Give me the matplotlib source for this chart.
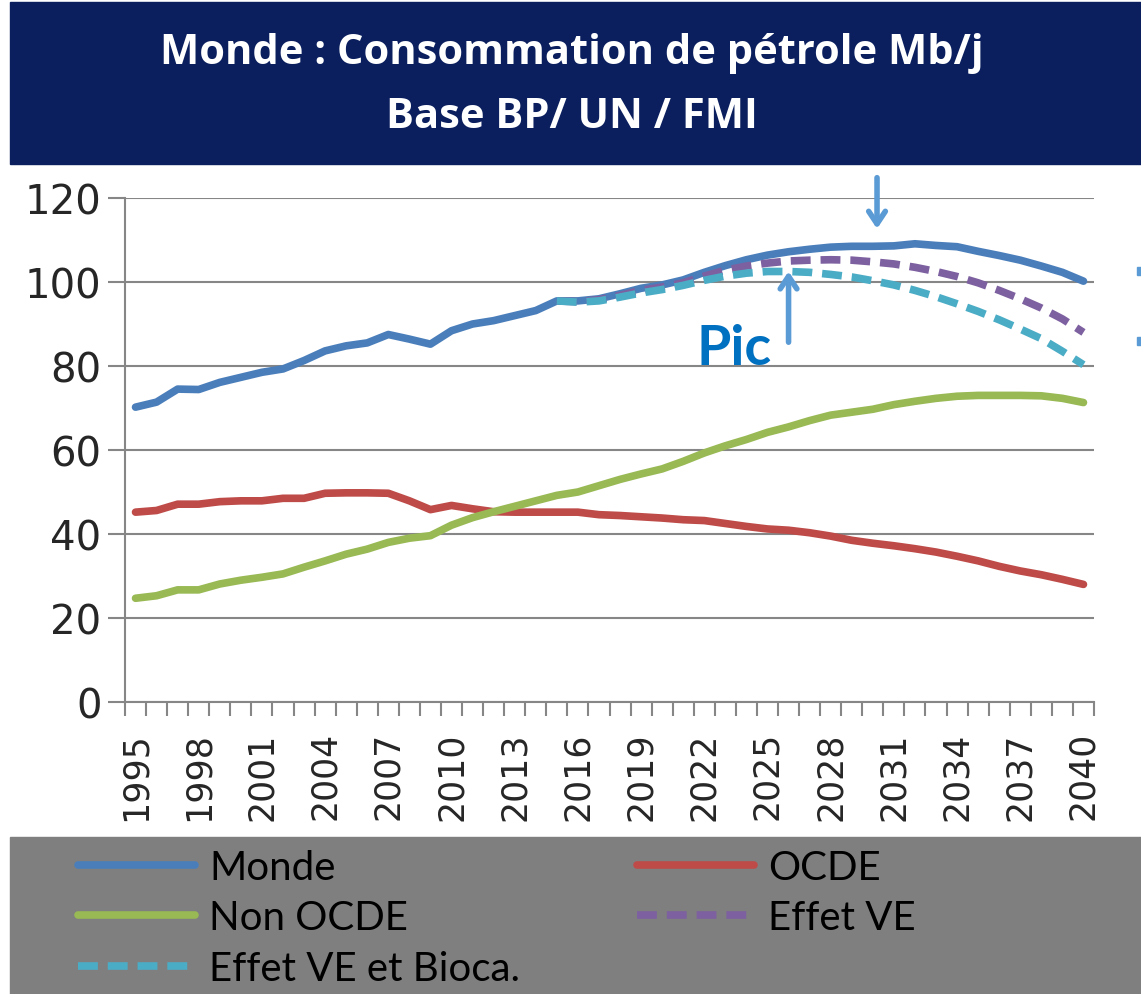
import matplotlib.pyplot as plt
from matplotlib.patches import Rectangle

# data (Mb/j)
years = list(range(1995, 2041))
monde = [70.2, 71.4, 74.5, 74.4, 76.1, 77.3, 78.5, 79.3, 81.3, 83.6,
         84.8, 85.5, 87.5, 86.4, 85.2, 88.4, 90.0, 90.8, 92.0, 93.2,
         95.5, 95.5, 96.0, 97.2, 98.5, 99.3, 100.5, 102.3, 103.9, 105.3,
         106.4, 107.2, 107.8, 108.3, 108.5, 108.5, 108.6, 109.1, 108.7, 108.4,
         107.3, 106.3, 105.2, 103.8, 102.3, 100.2]
ocde = [45.2, 45.6, 47.1, 47.1, 47.7, 47.9, 47.9, 48.5, 48.5, 49.7,
        49.8, 49.8, 49.7, 47.9, 45.8, 46.8, 46.0, 45.3, 45.2, 45.2,
        45.2, 45.2, 44.6, 44.4, 44.1, 43.8, 43.4, 43.2, 42.5, 41.8,
        41.2, 40.9, 40.3, 39.5, 38.5, 37.8, 37.2, 36.5, 35.7, 34.7,
        33.6, 32.3, 31.2, 30.3, 29.2, 28.0]
non_ocde = [24.7, 25.3, 26.7, 26.7, 28.1, 29.0, 29.7, 30.5, 32.1, 33.6,
            35.2, 36.4, 38.0, 39.0, 39.6, 42.1, 43.9, 45.3, 46.6, 47.9,
            49.2, 50.0, 51.5, 53.0, 54.3, 55.5, 57.3, 59.3, 61.0, 62.5,
            64.2, 65.5, 67.0, 68.3, 69.0, 69.7, 70.8, 71.6, 72.3, 72.8,
            73.0, 73.0, 73.0, 72.9, 72.3, 71.3]

years_proj = list(range(2015, 2041))
effet_ve = [95.5, 95.3, 95.8, 96.8, 98.0, 98.8, 99.8, 101.4, 102.8, 103.8,
            104.5, 105.0, 105.2, 105.3, 105.2, 104.8, 104.3, 103.5, 102.5, 101.3,
            99.8, 98.0, 96.0, 93.8, 91.2, 88.0]
effet_bioca = [95.5, 95.2, 95.5, 96.4, 97.4, 98.2, 99.2, 100.4, 101.4, 102.1,
               102.5, 102.5, 102.3, 101.8, 101.2, 100.3, 99.3, 98.0, 96.5, 94.8,
               93.0, 91.0, 88.8, 86.5, 83.5, 80.3]

year_labels = [str(y) for y in range(1995, 2041, 3)]

W, H = 1141, 995
fig = plt.figure(figsize=(W / 100, H / 100), dpi=100)

# title banner and legend panel
fig.patches.append(Rectangle((10 / W, 1 - 165 / H), 1 - 10 / W, 162 / H,
                             transform=fig.transFigure, color='#0b1f5e', zorder=0))
fig.patches.append(Rectangle((10 / W, 0), 1 - 10 / W, 157 / H,
                             transform=fig.transFigure, color='#7f7f7f', zorder=0))
for yy in (268, 338):
    fig.patches.append(Rectangle((1137 / W, 1 - (yy + 8) / H), 4 / W, 8 / H,
                                 transform=fig.transFigure, color='#5b9bd5'))

fig.text(572 / W, 1 - 54 / H, 'Monde : Consommation de pétrole Mb/j', color='white',
         fontsize=30, fontweight='bold', family='Open Sans', ha='center', va='center')
fig.text(572 / W, 1 - 118 / H, 'Base BP/ UN / FMI', color='white',
         fontsize=30, fontweight='bold', family='Open Sans', ha='center', va='center')

ax = fig.add_axes([125 / W, 1 - 703 / H, (1094 - 125) / W, (703 - 199) / H])

l_monde, = ax.plot(years, monde, color='#4a7ebb', lw=5.5, solid_capstyle='round', label='Monde')
l_ocde, = ax.plot(years, ocde, color='#be4b48', lw=5.5, solid_capstyle='round', label='OCDE')
l_non, = ax.plot(years, non_ocde, color='#98b954', lw=5.5, solid_capstyle='round',
                 label='Non OCDE')
l_ve, = ax.plot(years_proj, effet_ve, color='#7d60a0', lw=5.5, dashes=(2.6, 1.3),
                label='Effet VE')
l_bio, = ax.plot(years_proj, effet_bioca, color='#4bacc6', lw=5.5, dashes=(2.6, 1.3),
                 label='Effet VE et Bioca.')

ax.set_xlim(1994.5, 2040.5)
ax.set_ylim(0, 120)
ax.set_yticks(range(0, 121, 20))
ax.set_xticks(range(1995, 2041, 3))
ax.set_xticklabels(year_labels, rotation=90)
ax.set_xticks([y - 0.5 for y in range(1995, 2042)], minor=True)
ax.tick_params(axis='x', which='major', length=0, pad=21, labelsize=25, labelcolor='#262626')
ax.tick_params(axis='x', which='minor', length=10, width=1.5, color='#868686', direction='out')
ax.tick_params(axis='y', length=12, width=1.5, color='#868686', pad=5, labelsize=29,
               labelcolor='#262626')
ax.grid(axis='y', color='#868686', lw=1.5)
ax.set_axisbelow(True)
for s in ('top', 'right'):
    ax.spines[s].set_visible(False)
for s in ('left', 'bottom'):
    ax.spines[s].set_color('#868686')
    ax.spines[s].set_linewidth(1.5)

# annotations
ax.annotate('', xy=(2030.2, 112.0), xytext=(2030.2, 125.5), annotation_clip=False,
            arrowprops=dict(arrowstyle='->, head_length=0.9, head_width=0.6',
                            color='#5b9bd5', lw=4))
ax.annotate('', xy=(2026.0, 103.2), xytext=(2026.0, 85.0),
            arrowprops=dict(arrowstyle='->, head_length=0.9, head_width=0.6',
                            color='#5b9bd5', lw=4))
ax.text(2023.4, 80.5, 'Pic', color='#0070c0', fontsize=40, fontweight='bold',
        family='Lato', ha='center', va='baseline')

fig.legend([l_monde, l_non, l_bio, l_ocde, l_ve],
           ['Monde', 'Non OCDE', 'Effet VE et Bioca.', 'OCDE', 'Effet VE'],
           ncol=2, loc='upper left', bbox_to_anchor=(62 / W, 1 - 834 / H),
           frameon=False, handlelength=2.9, handletextpad=0.35,
           labelspacing=0.33, columnspacing=2.9, borderaxespad=0,
           prop={'family': 'Lato', 'size': 29})

fig.savefig('out.png', dpi=100)
